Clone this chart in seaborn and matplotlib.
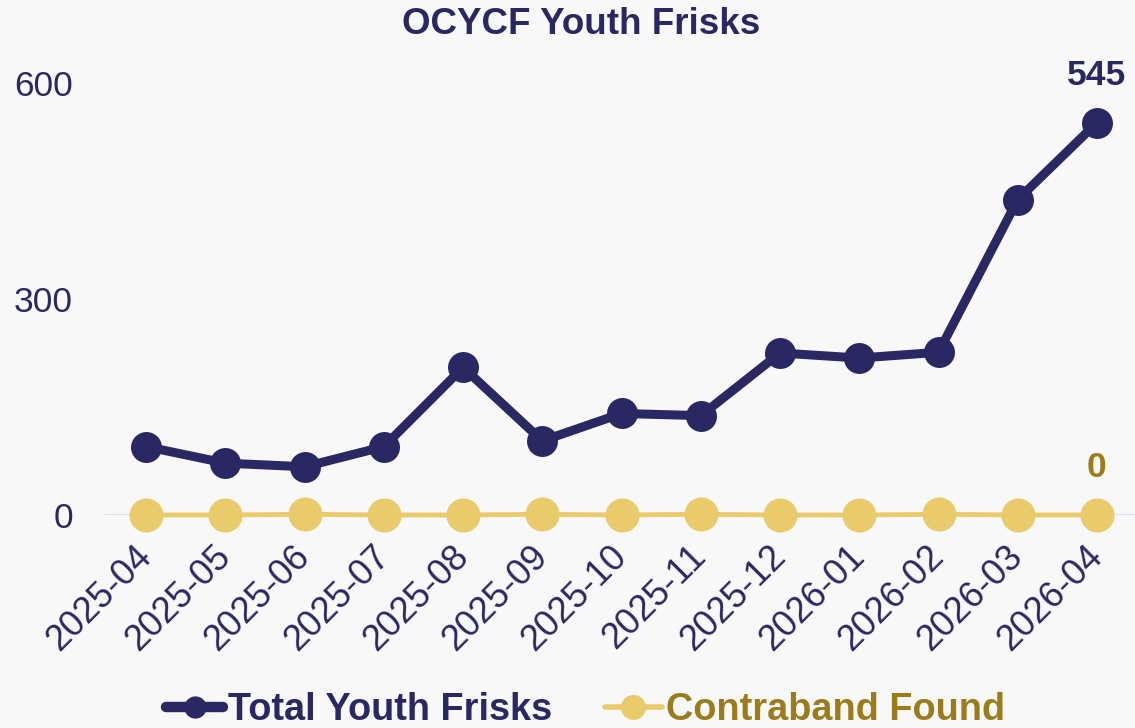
import matplotlib
matplotlib.use("Agg")
import matplotlib.pyplot as plt
import seaborn as sns
import pandas as pd
from matplotlib.lines import Line2D

months = ["2025-04", "2025-05", "2025-06", "2025-07", "2025-08", "2025-09", "2025-10",
          "2025-11", "2025-12", "2026-01", "2026-02", "2026-03", "2026-04"]
total_frisks = [95, 72, 67, 95, 205, 103, 141, 138, 225, 218, 226, 438, 545]
contraband = [0, 0, 1, 0, 0, 1, 0, 1, 0, 0, 1, 0, 0]
y_ticks = [0, 300, 600]

NAVY = "#2a2862"
YELLOW = "#eacb6b"
GOLD = "#9b7b1a"
BG = "#f8f8f8"

sns.set_theme(style="white")
plt.rcParams["font.family"] = ["Liberation Sans", "DejaVu Sans"]

df = pd.DataFrame({"month": months, "x": range(len(months)),
                   "Total Youth Frisks": total_frisks, "Contraband Found": contraband})

fig = plt.figure(figsize=(11.35, 7.28), dpi=100, facecolor=BG)
ax = fig.add_axes([105 / 1135, (728 - 515) / 728, 1 - 105 / 1135, (515 - 83) / 728])
ax.set_facecolor(BG)

ax.axhline(0, color="#dcd8f0", lw=2, zorder=0)

sns.lineplot(data=df, x="x", y="Contraband Found", ax=ax, color=YELLOW, lw=3.5,
             marker="o", markersize=24.5, markeredgewidth=0, clip_on=False, zorder=3)
sns.lineplot(data=df, x="x", y="Total Youth Frisks", ax=ax, color=NAVY, lw=6.5,
             marker="o", markersize=22.3, markeredgewidth=0, clip_on=False, zorder=4)

ax.set_xlim(-0.52, len(months) - 1 + 0.48)
ax.set_ylim(0, 600)
ax.set_yticks(y_ticks)
ax.set_yticklabels([str(v) for v in y_ticks], fontsize=25.5, color=NAVY)
ax.set_xticks(range(len(months)))
ax.set_xticklabels(months, fontsize=26, color=NAVY, rotation=45, ha="right",
                   va="center", rotation_mode="anchor")
ax.tick_params(axis="y", length=0, pad=23)
ax.tick_params(axis="x", length=0, pad=26)
ax.set_xlabel("")
ax.set_ylabel("")
for s in ax.spines.values():
    s.set_visible(False)

last = len(months) - 1
ax.annotate(str(total_frisks[last]), (last, total_frisks[last]), xytext=(0, 34),
            textcoords="offset points", ha="center", va="center",
            fontsize=25.5, fontweight="bold", color=NAVY, annotation_clip=False)
ax.annotate(str(contraband[last]), (last, contraband[last]), xytext=(0, 34),
            textcoords="offset points", ha="center", va="center",
            fontsize=25.5, fontweight="bold", color=GOLD, annotation_clip=False)

fig.text(581 / 1135, 1 - 24 / 728, "OCYCF Youth Frisks", ha="center", va="center",
         fontsize=26.5, fontweight="bold", color=NAVY)

handles = [Line2D([], [], color=NAVY, lw=7.5, marker="o", markersize=15,
                  solid_capstyle="round"),
           Line2D([], [], color=YELLOW, lw=4, marker="o", markersize=17,
                  solid_capstyle="round")]
leg = fig.legend(handles, ["Total Youth Frisks", "Contraband Found"], loc="center",
                 bbox_to_anchor=(586 / 1135, 1 - 710 / 728), ncol=2, frameon=False,
                 prop={"size": 27.3, "weight": "bold"}, handlelength=1.5,
                 handletextpad=0.12, columnspacing=1.4)
for t, c in zip(leg.get_texts(), [NAVY, GOLD]):
    t.set_color(c)

fig.savefig("out.png", dpi=100, facecolor=BG)
